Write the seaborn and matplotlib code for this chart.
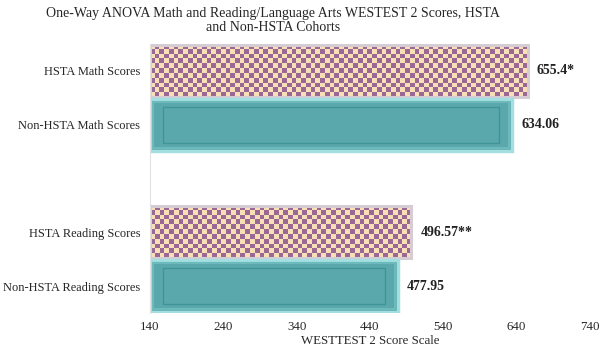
import numpy as np
import pandas as pd
import matplotlib
matplotlib.use("Agg")
import matplotlib.pyplot as plt
import matplotlib.patches as mpatches
import seaborn as sns

# data
labels = ["HSTA Math Scores", "Non-HSTA Math Scores",
          "HSTA Reading Scores", "Non-HSTA Reading Scores"]
groups = ["HSTA", "Non-HSTA", "HSTA", "Non-HSTA"]
scores = [655.4, 634.06, 496.57, 477.95]
value_text = ["655.4*", "634.06", "496.57**", "477.95"]
order = ["HSTA Math Scores", "Non-HSTA Math Scores", " ",
         "HSTA Reading Scores", "Non-HSTA Reading Scores"]
x_ticks = [140, 240, 340, 440, 540, 640, 740]

df = pd.DataFrame({"label": labels, "group": groups, "score": scores})

sns.set_theme(style="white")
plt.rcParams["font.family"] = ["Liberation Serif", "DejaVu Serif"]

PURPLE = "#8a5290"
CREAM = "#f8e0b6"
TEAL = "#5aa8ac"
TEAL_RIM = "#a3dfe1"
TEAL_DARK = "#3f9499"

fig = plt.figure(figsize=(6.0, 3.47), dpi=100)
ax = fig.add_axes([0.25, 0.098, 0.733, 0.775])

sns.barplot(data=df, x="score", y="label", hue="group", order=order,
            hue_order=["HSTA", "Non-HSTA"], dodge=False, width=0.97,
            saturation=1, palette={"HSTA": CREAM, "Non-HSTA": TEAL},
            legend=False, ax=ax)

ax.set_xlim(140, 740)
ax.set_ylim(4.5, -0.5)
ax.set_xticks(x_ticks)
ax.set_xticklabels([str(t) for t in x_ticks], fontsize=9.3)
ax.tick_params(axis="y", labelsize=8.9, length=0, pad=7)
ax.tick_params(axis="x", length=0, pad=6)
ax.set_ylabel("")
ax.set_xlabel("WESTTEST 2 Score Scale", fontsize=9.3, labelpad=1)
for s in ["top", "right", "bottom"]:
    ax.spines[s].set_visible(False)
ax.spines["left"].set_color("#e2e2e2")
ax.spines["left"].set_linewidth(0.8)

fig.canvas.draw()
px_x = (ax.transData.transform((240, 0))[0] - ax.transData.transform((140, 0))[0]) / 100.0
px_y = abs(ax.transData.transform((0, 1))[1] - ax.transData.transform((0, 0))[1])

bars = [p for p in ax.patches if p.get_width() > 0]
bars = sorted(bars, key=lambda p: p.get_y())
for p, grp, txt in zip(bars, groups, value_text):
    x0 = 140
    x1 = p.get_x() + p.get_width()
    y0, h = p.get_y(), p.get_height()
    p.set_x(x0)
    p.set_width(x1 - x0)
    p.set_linewidth(0)
    z = p.get_zorder()
    if grp == "HSTA":
        cell = 4.7
        nx = int((x1 - x0) * px_x / cell)
        ny = int(h * px_y / cell)
        board = (np.add.outer(np.arange(ny), np.arange(nx)) % 2).astype(float)
        cmap = matplotlib.colors.ListedColormap([CREAM, PURPLE])
        im = ax.imshow(board, cmap=cmap, extent=(x0, x1, y0 + h, y0),
                       aspect="auto", interpolation="nearest", zorder=z + 0.1,
                       alpha=0.85)
        im.set_clip_path(p)
        ax.add_patch(mpatches.Rectangle((x0, y0), x1 - x0, h, fill=False,
                                        edgecolor="#d6ccd4", linewidth=2.2,
                                        zorder=z + 0.2))
    else:
        # bevel look: light rim, darker inset outline
        ax.add_patch(mpatches.Rectangle((x0, y0), x1 - x0, h, fill=False,
                                        edgecolor=TEAL_RIM, linewidth=2.5,
                                        zorder=z + 0.2))
        bx = 3 / px_x
        by = 3 / px_y
        ax.add_patch(mpatches.Rectangle((x0 + bx, y0 + by), x1 - x0 - 2 * bx, h - 2 * by,
                                        fill=False, edgecolor="#6dbabd", linewidth=1.5,
                                        zorder=z + 0.2))
        dx = 13 / px_x
        dy = 8 / px_y
        ax.add_patch(mpatches.Rectangle((x0 + dx, y0 + dy), x1 - x0 - 2 * dx, h - 2 * dy,
                                        fill=False, edgecolor=TEAL_DARK, linewidth=1.0,
                                        zorder=z + 0.3))
    ax.text(x1 + 9 / px_x, y0 + h / 2, txt, va="center", ha="left",
            fontsize=10, fontweight="bold", color="#222222")

ax.set_ylim(4.5, -0.5)
ax.set_xlim(140, 740)

fig.suptitle("One-Way ANOVA Math and Reading/Language Arts WESTEST 2 Scores, HSTA\nand Non-HSTA Cohorts",
             x=0.455, y=0.98, fontsize=10, linespacing=1.12)

fig.savefig("out.png", dpi=100)
